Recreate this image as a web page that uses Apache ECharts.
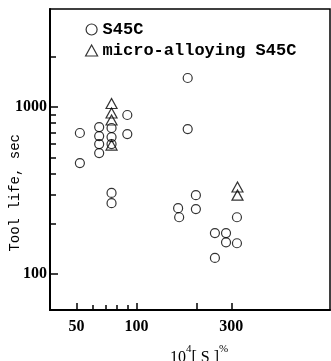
<!DOCTYPE html>
<html>
<head>
<meta charset="utf-8">
<script src="https://cdn.jsdelivr.net/npm/echarts@6/dist/echarts.min.js"></script>
<style>html,body{margin:0;padding:0;background:#fff;}#c{width:331px;height:361px;}</style>
</head>
<body>
<div id="c"></div>
<script>
// S45C (circles): sulphur content 10^4[S]% vs tool life (sec)
const s45cX = [52, 52, 65, 65, 65, 65, 75, 75, 75, 75, 75, 90, 90, 162, 164, 181, 181, 199, 199, 248, 248, 282, 282, 320, 320];
const s45cY = [699, 462, 759, 670, 600, 530, 749, 661, 600, 306, 266, 896, 689, 248, 219, 1492, 738, 297, 245, 176, 125, 176, 155, 219, 153];
// micro-alloying S45C (triangles)
const microX = [75, 75, 75, 75, 322, 322];
const microY = [1050, 921, 836, 592, 332, 297];
// axis ticks / labels
const xMajorTicks = [50, 100, 200, 300];
const xMinorTicks = [60, 70, 80, 90];
const xLabels = [50, 100, 300];
const yMajorTicks = [100, 1000];
const yMinorTicks = [200, 300, 400, 500, 600, 700, 800, 900, 2000];
const yLabels = [100, 1000];
const xRange = [36.8, 939];
const yRange = [61, 3860];

const numFont = {fontFamily: 'Liberation Serif', fontWeight: 'bold', fontSize: 16, color: '#000'};
const pair = (xs, ys) => xs.map((x, i) => [x, ys[i]]);

const chart = echarts.init(document.getElementById('c'));
const baseX = {type: 'log', logBase: 10, min: xRange[0], max: xRange[1], position: 'bottom', splitLine: {show: false}};
const baseY = {type: 'log', logBase: 10, min: yRange[0], max: yRange[1], position: 'left', splitLine: {show: false}};
chart.setOption({
  animation: false,
  backgroundColor: '#fff',
  grid: {left: 50, top: 9, right: 1, bottom: 51, show: true, borderColor: '#000', borderWidth: 1.5},
  xAxis: [
    Object.assign({}, baseX, {
      axisLine: {show: true, lineStyle: {color: '#000', width: 2}},
      axisTick: {show: true, inside: true, length: 7, customValues: xMajorTicks, lineStyle: {color: '#000', width: 1.5}},
      axisLabel: Object.assign({show: true, margin: 9, customValues: xLabels, formatter: v => String(v)}, numFont)
    }),
    Object.assign({}, baseX, {
      offset: 0,
      axisLine: {show: false},
      axisTick: {show: true, inside: true, length: 5, customValues: xMinorTicks, lineStyle: {color: '#000', width: 1.5}},
      axisLabel: {show: false}
    })
  ],
  yAxis: [
    Object.assign({}, baseY, {
      axisLine: {show: true, lineStyle: {color: '#000', width: 2}},
      axisTick: {show: true, inside: true, length: 8, customValues: yMajorTicks, lineStyle: {color: '#000', width: 1.5}},
      axisLabel: Object.assign({show: true, margin: 3, customValues: yLabels, formatter: v => String(v)}, numFont)
    }),
    Object.assign({}, baseY, {
      offset: 0,
      axisLine: {show: false},
      axisTick: {show: true, inside: true, length: 6, customValues: yMinorTicks, lineStyle: {color: '#000', width: 1.5}},
      axisLabel: {show: false}
    })
  ],
  legend: {
    orient: 'vertical', left: 80, top: 16, itemGap: 4, itemWidth: 12, itemHeight: 11,
    itemStyle: {color: 'transparent', borderColor: '#000', borderWidth: 1.2},
    textStyle: {fontFamily: 'Liberation Mono', fontWeight: 'bold', fontSize: 17, color: '#000'},
    data: [{name: 'S45C', icon: 'circle'}, {name: 'micro-alloying S45C', icon: 'triangle'}]
  },
  graphic: [
    {type: 'text', left: 8, top: 134, rotation: Math.PI / 2, originX: 0, originY: 0,
      style: {text: 'Tool life, sec', fontFamily: 'Liberation Mono', fontSize: 14, fill: '#000'}},
    {type: 'text', left: 170, top: 344,
      style: {text: '{b|10}{s|4}{b|[ S ]}{s|%}',
        rich: {b: {fontFamily: 'Liberation Serif', fontSize: 16, fill: '#000', verticalAlign: 'bottom', lineHeight: 22},
               s: {fontFamily: 'Liberation Serif', fontSize: 11, fill: '#000', verticalAlign: 'top', lineHeight: 22}}}}
  ],
  series: [
    {name: 'S45C', type: 'scatter', xAxisIndex: 0, yAxisIndex: 0, symbol: 'circle', symbolSize: 9,
      itemStyle: {color: 'transparent', borderColor: '#000', borderWidth: 1.2}, data: pair(s45cX, s45cY)},
    {name: 'micro-alloying S45C', type: 'scatter', xAxisIndex: 0, yAxisIndex: 0, symbol: 'triangle', symbolSize: [11, 10],
      itemStyle: {color: 'transparent', borderColor: '#000', borderWidth: 1.2}, data: pair(microX, microY)}
  ]
});
</script>
</body>
</html>
